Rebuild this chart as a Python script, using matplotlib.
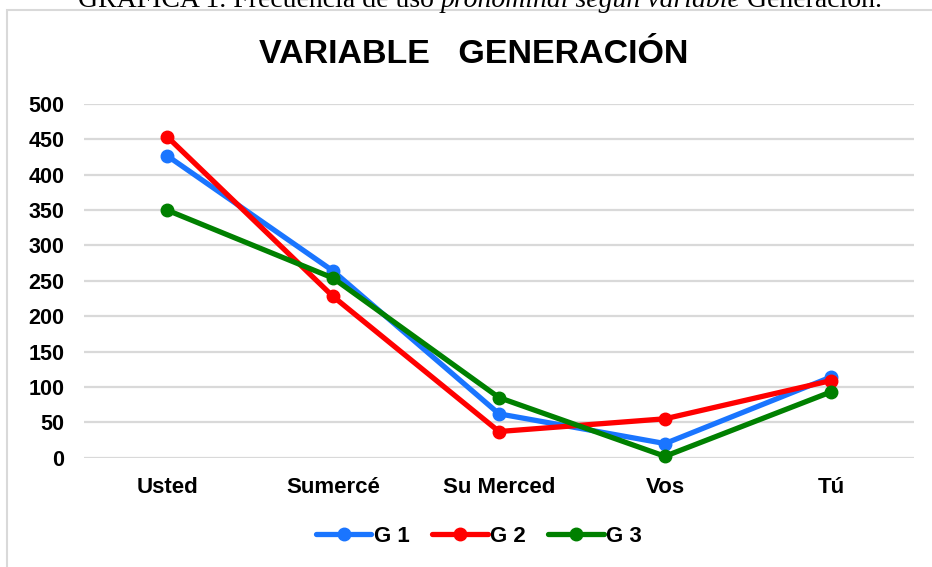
import matplotlib
matplotlib.use("Agg")
import matplotlib.pyplot as plt
from matplotlib.patches import Rectangle

categories = ["Usted", "Sumercé", "Su Merced", "Vos", "Tú"]
g1 = [427, 264, 62, 20, 114]
g2 = [454, 228, 37, 55, 109]
g3 = [350, 254, 85, 2, 93]
series_names = ["G 1", "G 2", "G 3"]
yticks = [0, 50, 100, 150, 200, 250, 300, 350, 400, 450, 500]

colors = ["#1a75ff", "#ff0000", "#008000"]

W, H = 932, 567
fig = plt.figure(figsize=(W / 100, H / 100), dpi=100)

# outer chart frame
fig.patches.append(Rectangle((7 / W, -0.1), 1.2, 1 - 10 / H + 0.1,
                             transform=fig.transFigure, fill=False,
                             edgecolor="#d9d9d9", linewidth=1.5))

ax = fig.add_axes([84 / W, 1 - 457.7 / H, (914 - 84) / W, (457.7 - 104) / H])
x = list(range(len(categories)))
for vals, c, name in zip([g1, g2, g3], colors, series_names):
    ax.plot(x, vals, color=c, linewidth=3.8, marker="o", markersize=9,
            label=name, clip_on=False, solid_capstyle="round", zorder=3)

ax.set_xlim(-0.5, len(categories) - 0.5)
ax.set_ylim(0, 500)
ax.set_yticks(yticks)
ax.set_xticks(x)
ax.set_xticklabels(categories)
ax.grid(axis="y", color="#d9d9d9", linewidth=1.6)
ax.set_axisbelow(True)
for s in ax.spines.values():
    s.set_visible(False)
ax.tick_params(length=0)
ax.tick_params(axis="y", pad=14)
ax.tick_params(axis="x", pad=14)
for lab in ax.get_yticklabels():
    lab.set_fontfamily("Liberation Sans")
    lab.set_fontweight("bold")
    lab.set_fontsize(15.5)
    lab.set_color("#000000")
for lab in ax.get_xticklabels():
    lab.set_fontfamily("Liberation Sans")
    lab.set_fontweight("bold")
    lab.set_fontsize(16)
    lab.set_color("#000000")

fig.text(474 / W, 1 - 63 / H, "VARIABLE   GENERACIÓN", ha="center", va="baseline",
         fontfamily="Liberation Sans", fontweight="bold", fontsize=24.5)

leg = fig.legend(loc="center", bbox_to_anchor=(479 / W, 1 - 536 / H), ncol=3,
                 frameon=False, handlelength=2.5, handletextpad=0.12,
                 columnspacing=1.0,
                 prop={"family": "Liberation Sans", "weight": "bold", "size": 16})

# caption (cut off at the top of the image, as in the source)
parts = [("GRÁFICA 1. Frecuencia de uso ", "normal"),
         ("pronominal según variable", "italic"),
         (" Generación.", "normal")]
fig.canvas.draw()
r = fig.canvas.get_renderer()
texts = []
for s, st in parts:
    t = fig.text(0, 1 - 7 / H, s, fontfamily="Liberation Serif", style=st,
                 fontsize=20, va="baseline", ha="left")
    texts.append(t)
widths = [t.get_window_extent(r).width for t in texts]
total = sum(widths)
xpos = (480 - total / 2)
for t, w in zip(texts, widths):
    t.set_x(xpos / W)
    xpos += w

fig.savefig("out.png", dpi=100)
